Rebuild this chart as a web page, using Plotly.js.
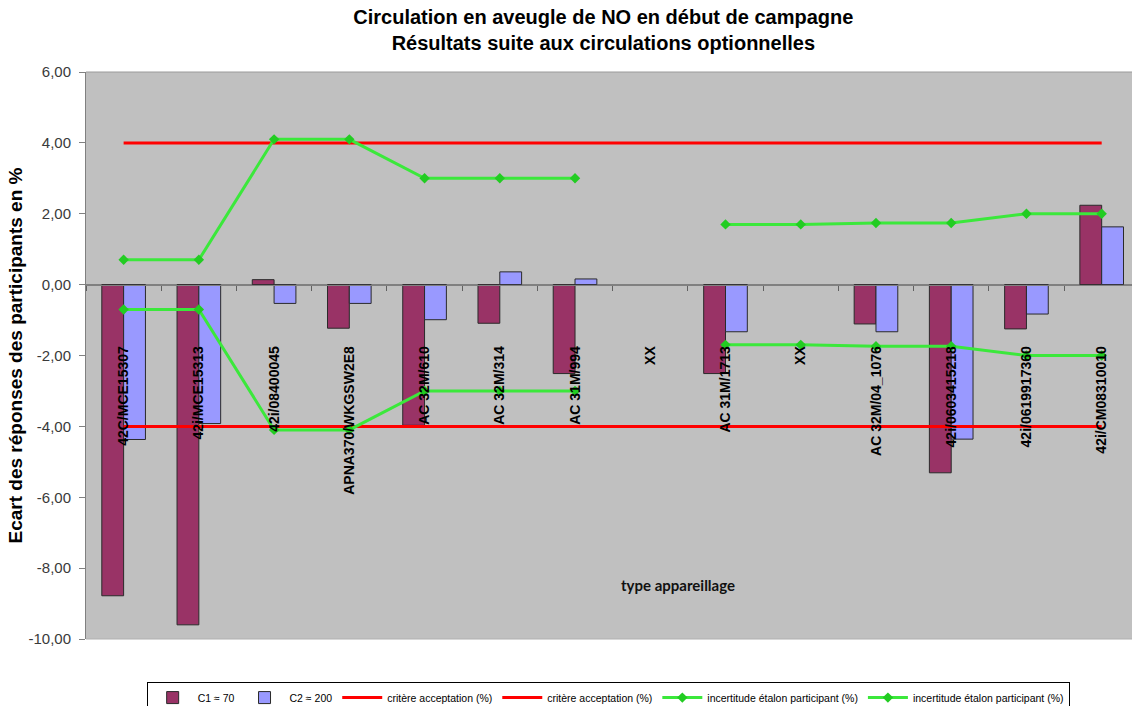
<!DOCTYPE html>
<html>
<head>
<meta charset="utf-8">
<script src="https://cdn.plot.ly/plotly-3.0.1.min.js"></script>
<style>html,body{margin:0;padding:0;background:#fff;}#chart{width:1132px;height:706px;}</style>
</head>
<body>
<div id="chart"></div>
<script>
// Categories (second "XX" carries a zero-width space so the two stay distinct)
const categories = ["42C/MCE15307", "42i/MCE15313", "42i/08400045", "APNA370/WKGSW2E8",
  "AC 32M/610", "AC 32M/314", "AC 31M/994", "XX", "AC 31M/1713", "XX\u200b",
  "AC 32M/04_1076", "42i/0603415218", "42i/0619917360", "42i/CM08310010"];
const c1Values = [-8.78, -9.60, 0.14, -1.23, -3.97, -1.09, -2.51, null, -2.51, null, -1.11, -5.31, -1.25, 2.24];
const c2Values = [-4.37, -3.92, -0.53, -0.53, -0.99, 0.36, 0.16, null, -1.33, null, -1.33, -4.36, -0.83, 1.63];
const critHigh = [4, 4, 4, 4, 4, 4, 4, 4, 4, 4, 4, 4, 4, 4];
const critLow = [-4, -4, -4, -4, -4, -4, -4, -4, -4, -4, -4, -4, -4, -4];
const uncHigh = [0.70, 0.70, 4.10, 4.10, 3.00, 3.00, 3.00, null, 1.70, 1.70, 1.74, 1.74, 2.00, 2.00];
const uncLow = [-0.70, -0.70, -4.10, -4.10, -3.00, -3.00, -3.00, null, -1.70, -1.70, -1.74, -1.74, -2.00, -2.00];
const yTicks = [6, 4, 2, 0, -2, -4, -6, -8, -10];
const yTickLabels = ["6,00", "4,00", "2,00", "0,00", "-2,00", "-4,00", "-6,00", "-8,00", "-10,00"];

const FONT = 'Arial, "Liberation Sans", sans-serif';
const GREEN = '#3be83b';

const traces = [
  {type: 'bar', name: 'C1 \u2248 70', x: categories, y: c1Values,
   marker: {color: '#993366', line: {color: '#2a2a2a', width: 1}}},
  {type: 'bar', name: 'C2 \u2248 200', x: categories, y: c2Values,
   marker: {color: '#9999ff', line: {color: '#2a2a2a', width: 1}}},
  {type: 'scatter', mode: 'lines', name: 'crit\u00e8re acceptation (%)', x: categories, y: critHigh,
   line: {color: '#ff0000', width: 3}},
  {type: 'scatter', mode: 'lines', name: 'crit\u00e8re acceptation (%)', x: categories, y: critLow,
   line: {color: '#ff0000', width: 3}},
  {type: 'scatter', mode: 'lines+markers', name: 'incertitude \u00e9talon participant (%)', x: categories, y: uncHigh,
   connectgaps: false, line: {color: GREEN, width: 3},
   marker: {symbol: 'diamond', size: 8, color: '#22cc22'}},
  {type: 'scatter', mode: 'lines+markers', name: 'incertitude \u00e9talon participant (%)', x: categories, y: uncLow,
   connectgaps: false, line: {color: GREEN, width: 3},
   marker: {symbol: 'diamond', size: 8, color: '#22cc22'}}
];

const layout = {
  width: 1132, height: 706,
  margin: {l: 86, r: 0, t: 72, b: 67, autoexpand: false},
  paper_bgcolor: '#ffffff',
  plot_bgcolor: '#c0c0c0',
  font: {family: FONT, color: '#000'},
  title: {
    text: 'Circulation en aveugle de NO en d\u00e9but de campagne<br>R\u00e9sultats suite aux circulations optionnelles',
    font: {family: FONT, size: 20, color: '#000', weight: 'bold'},
    x: 0.533, xref: 'container', xanchor: 'center',
    y: 0.966, yref: 'container', yanchor: 'top'
  },
  barmode: 'group',
  bargap: 0.42,
  bargroupgap: 0,
  showlegend: true,
  legend: {
    orientation: 'h', x: 0.058, xanchor: 'left', y: -0.076, yanchor: 'top',
    font: {family: FONT, size: 10.5, color: '#000'},
    bgcolor: '#ffffff', bordercolor: '#000', borderwidth: 1,
    itemwidth: 40,
    traceorder: 'normal'
  },
  xaxis: {
    type: 'category',
    range: [-0.5, 13.403],
    anchor: 'free', position: 0.625,
    showline: true, linecolor: '#808080', linewidth: 1,
    ticks: 'outside', tickson: 'boundaries', ticklen: 5, tickcolor: '#606060',
    tickangle: -90,
    ticklabelstandoff: 55,
    tickfont: {family: FONT, size: 14, color: '#000', weight: 'bold'},
    showgrid: false, zeroline: false,
    fixedrange: true
  },
  yaxis: {
    range: [-10, 6],
    tickvals: yTicks,
    ticktext: yTickLabels,
    ticks: 'outside', ticklen: 6, tickcolor: '#808080',
    ticklabelstandoff: 5,
    tickfont: {family: FONT, size: 15, color: '#3a3a3a'},
    showline: true, linecolor: '#808080', linewidth: 1,
    showgrid: false,
    zeroline: true, zerolinecolor: '#808080', zerolinewidth: 1,
    title: {text: 'Ecart des r\u00e9ponses des participants en %',
            font: {family: FONT, size: 19, color: '#000', weight: 'bold'}, standoff: 0},
    fixedrange: true
  },
  shapes: [
    {type: 'line', xref: 'paper', yref: 'paper', x0: 0, x1: 1, y0: 1, y1: 1, line: {color: '#9a9a9a', width: 1}},
    {type: 'line', xref: 'paper', yref: 'paper', x0: 0, x1: 1, y0: 0, y1: 0, line: {color: '#b0b0b0', width: 1}}
  ],
  annotations: [
    {text: 'type appareillage', xref: 'paper', yref: 'paper',
     x: 0.566, y: 0.095, xanchor: 'center', yanchor: 'middle', showarrow: false,
     font: {family: 'Lato, "Open Sans", sans-serif', size: 15, color: '#111', weight: 'bold'}}
  ]
};

Plotly.newPlot('chart', traces, layout, {displayModeBar: false, staticPlot: true});
</script>
</body>
</html>
